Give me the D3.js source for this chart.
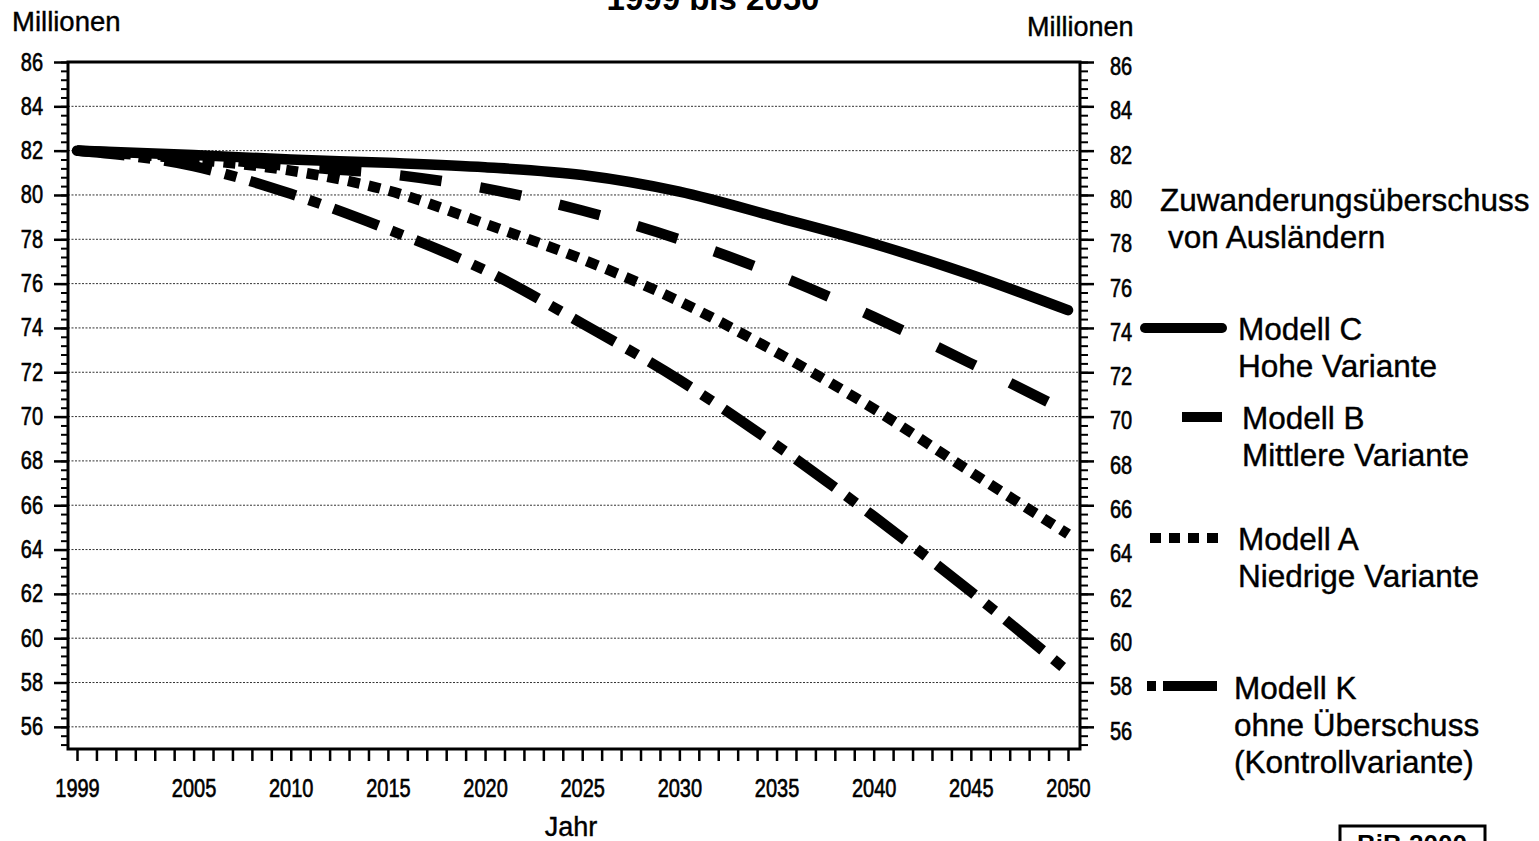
<!DOCTYPE html>
<html><head><meta charset="utf-8">
<script src="https://cdn.jsdelivr.net/npm/d3@7"></script>
<style>
body{margin:0;background:#fff;}
svg{display:block;}
text{font-family:"Liberation Sans",Arial,Helvetica,sans-serif;fill:#000;}
</style></head><body>
<svg id="c" width="1539" height="841"></svg>
<script>
// ---- data ----
const years   = [1999, 2005, 2010, 2015, 2020, 2025, 2030, 2035, 2040, 2045, 2050];
const modellC = [82.0, 81.8, 81.6, 81.45, 81.25, 80.9, 80.15, 79.0, 77.8, 76.4, 74.8];
const modellB = [82.0, 81.7, 81.3, 80.95, 80.3, 79.3, 78.0, 76.4, 74.5, 72.4, 70.2];
const modellA = [82.0, 81.6, 81.1, 80.2, 78.7, 77.1, 75.2, 72.9, 70.35, 67.5, 64.7];
const modellK = [82.0, 81.3, 80.05, 78.45, 76.6, 74.2, 71.65, 68.7, 65.5, 62.1, 58.5];
const xTickLabels = [1999, 2005, 2010, 2015, 2020, 2025, 2030, 2035, 2040, 2045, 2050];
const yTickLabels = [56, 58, 60, 62, 64, 66, 68, 70, 72, 74, 76, 78, 80, 82, 84, 86];
const seriesNames = ["Modell C", "Modell B", "Modell A", "Modell K"];
const seriesSub = [["Hohe Variante"], ["Mittlere Variante"], ["Niedrige Variante"], ["ohne Überschuss", "(Kontrollvariante)"]];
const legendTitle = ["Zuwanderungsüberschuss", "von Ausländern"];
const titleText = "1999 bis 2050";
const unitLabel = "Millionen";
const xAxisLabel = "Jahr";
const sourceLabel = "BiB 2000";

// ---- layout / styles ----
const svg = d3.select("#c");
const x = d3.scaleLinear().domain([1999, 2050]).range([77, 1068]);
const y = d3.scaleLinear().domain([55, 86]).range([749, 62]);
const L = 68, R = 1080, T = y(86), B = y(55);

const styles = [
  {dash: null, cap: "round"},
  {dash: "42,39", cap: "butt"},
  {dash: "12,9", cap: "butt"},
  {dash: "48,14,12,14", cap: "butt"}
];
const seriesVals = [modellC, modellB, modellA, modellK];

// gridlines
svg.append("g").selectAll("line").data(yTickLabels.filter(v => v < 86)).join("line")
  .attr("x1", L).attr("x2", R).attr("y1", d => y(d)).attr("y2", d => y(d))
  .attr("stroke", "#333").attr("stroke-width", 1).attr("stroke-dasharray", "2,1.5");

// title (cut off at top, as in the reference)
svg.append("text").attr("x", 713).attr("y", 10).attr("text-anchor", "middle")
  .style("font-size", "33px").style("font-weight", "bold").text(titleText);

function tickText(sel) {
  sel.style("font-size", "20px").attr("fill", "#000")
    .attr("stroke", "#000").attr("stroke-width", 0.5)
    .attr("transform", "scale(1,1.25)");
}

// bottom axis
const gx = svg.append("g").attr("transform", `translate(0,${B})`)
  .call(d3.axisBottom(x).tickValues(d3.range(1999, 2051)).tickSize(12)
    .tickFormat(d => xTickLabels.includes(d) ? String(d) : ""));
gx.select(".domain").remove();
gx.selectAll(".tick line").attr("stroke", "#000").attr("stroke-width", 2.5);
gx.selectAll(".tick text").attr("y", 31.2).attr("dy", "0.35em").call(tickText);

// left axis
const minorVals = d3.range(0, 78).map(i => +(86 - i * 0.4).toFixed(1));
const gl = svg.append("g").attr("transform", `translate(${L},0)`)
  .call(d3.axisLeft(y).tickValues(yTickLabels).tickSize(14));
gl.select(".domain").remove();
gl.selectAll(".tick line").attr("stroke", "#000").attr("stroke-width", 2.5);
gl.selectAll(".tick text").attr("x", -25).attr("y", 0).attr("dy", "0.32em").call(tickText);
const glm = svg.append("g").attr("transform", `translate(${L},0)`)
  .call(d3.axisLeft(y).tickValues(minorVals).tickSize(7).tickFormat(""));
glm.select(".domain").remove();
glm.selectAll(".tick line").attr("stroke", "#000").attr("stroke-width", 2);

// right axis
const gr = svg.append("g").attr("transform", `translate(${R},0)`)
  .call(d3.axisRight(y).tickValues(yTickLabels).tickSize(14));
gr.select(".domain").remove();
gr.selectAll(".tick line").attr("stroke", "#000").attr("stroke-width", 2.5);
gr.selectAll(".tick text").attr("x", 30).attr("y", 3.5).attr("dy", "0.32em").call(tickText);
const grm = svg.append("g").attr("transform", `translate(${R},0)`)
  .call(d3.axisRight(y).tickValues(minorVals).tickSize(8).tickFormat(""));
grm.select(".domain").remove();
grm.selectAll(".tick line").attr("stroke", "#000").attr("stroke-width", 2);

// frame
svg.append("rect").attr("x", L).attr("y", T).attr("width", R - L).attr("height", B - T)
  .attr("fill", "none").attr("stroke", "#000").attr("stroke-width", 3);

// series lines
const line = d3.line().x((d, i) => x(years[i])).y(d => y(d)).curve(d3.curveMonotoneX);
seriesVals.forEach((vals, k) => {
  svg.append("path").datum(vals).attr("d", line)
    .attr("fill", "none").attr("stroke", "#000").attr("stroke-width", 10.5)
    .attr("stroke-linecap", styles[k].cap).attr("stroke-linejoin", "round")
    .attr("stroke-dasharray", styles[k].dash);
});

// axis titles
const tStroke = sel => sel.attr("stroke", "#000").attr("stroke-width", 0.4);
svg.append("text").attr("x", 12).attr("y", 31).style("font-size", "27.5px").text(unitLabel).call(tStroke);
svg.append("text").attr("x", 1027).attr("y", 36).style("font-size", "27px").text(unitLabel).call(tStroke);
svg.append("text").attr("x", 571).attr("y", 836).attr("text-anchor", "middle").style("font-size", "27px").text(xAxisLabel).call(tStroke);

// legend
svg.append("text").attr("x", 1160).attr("y", 211).style("font-size", "31.5px").text(legendTitle[0]).call(tStroke);
svg.append("text").attr("x", 1168).attr("y", 248).style("font-size", "31.5px").text(legendTitle[1]).call(tStroke);

const legendPos = [
  {x1: 1145, x2: 1222, y: 328, tx: 1238, ty: 340, dash: null, cap: "round"},
  {x1: 1182, x2: 1222, y: 417, tx: 1242, ty: 429, dash: null, cap: "butt"},
  {x1: 1150, x2: 1220, y: 538, tx: 1238, ty: 550, dash: "11,8", cap: "butt"},
  {x1: 1147, x2: 1217, y: 686, tx: 1234, ty: 699, dash: "9,7,55,20", cap: "butt"}
];
seriesNames.forEach((name, k) => {
  const p = legendPos[k];
  svg.append("line").attr("x1", p.x1).attr("x2", p.x2).attr("y1", p.y).attr("y2", p.y)
    .attr("stroke", "#000").attr("stroke-width", 10).attr("stroke-linecap", p.cap)
    .attr("stroke-dasharray", p.dash);
  svg.append("text").attr("x", p.tx).attr("y", p.ty).style("font-size", "31.5px").text(name).call(tStroke);
  seriesSub[k].forEach((s, j) => {
    svg.append("text").attr("x", p.tx).attr("y", p.ty + 37 * (j + 1)).style("font-size", "31.5px").text(s).call(tStroke);
  });
});

// source box (cut off at the bottom, as in the reference)
svg.append("rect").attr("x", 1340).attr("y", 826).attr("width", 145).attr("height", 40)
  .attr("fill", "none").attr("stroke", "#000").attr("stroke-width", 3);
svg.append("text").attr("x", 1412).attr("y", 853).attr("text-anchor", "middle")
  .style("font-size", "26px").style("font-weight", "bold").text(sourceLabel);
</script>
</body></html>
